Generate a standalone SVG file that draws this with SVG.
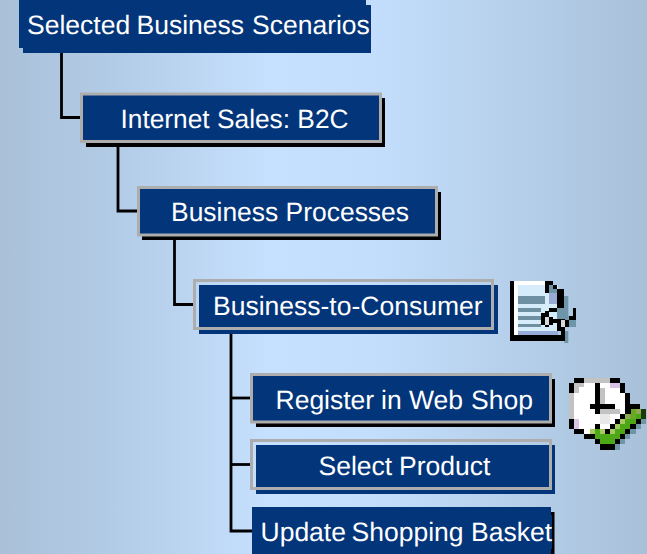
<svg xmlns="http://www.w3.org/2000/svg" width="647" height="554" viewBox="0 0 647 554">
<defs>
<linearGradient id="bg" x1="0" y1="0" x2="1" y2="0">
<stop offset="0" stop-color="#a9c0d8"/>
<stop offset="0.2" stop-color="#b4cde8"/>
<stop offset="0.42" stop-color="#c6e1ff"/>
<stop offset="0.58" stop-color="#c3deFC"/>
<stop offset="0.8" stop-color="#b5cfea"/>
<stop offset="1" stop-color="#a9c0d9"/>
</linearGradient>
</defs>
<style>
.b{fill:#03357b}
.k{fill:#000}
.g{fill:#03357b;stroke:#adadad;stroke-width:3}
.o{fill:none;stroke:#adadad;stroke-width:3}
.t{font-family:"Liberation Sans",Arial,sans-serif;font-size:26.5px;fill:#fff;text-rendering:geometricPrecision}
.c{fill:none;stroke:#000;stroke-width:2.8}
</style>
<rect width="647" height="554" fill="url(#bg)"/>
<g id="connectors">
<path class="c" d="M61.500 48V117.500H80"/>
<path class="c" d="M118 147V211H138"/>
<path class="c" d="M174.500 239V304.500H194"/>
<path class="c" d="M231 330V531H252"/>
<path class="c" d="M231 398H250"/>
<path class="c" d="M231 464.500H250"/>
</g>
<g id="node-scenarios">
<rect class="b" x="19" y="0" width="347" height="48"/>
<rect class="b" x="23" y="5" width="348" height="48"/>
<text class="t" y="34"><tspan x="27">Selected</tspan><tspan x="136.500">Business</tspan><tspan x="252">Scenarios</tspan></text>
</g>
<g id="node-internet-sales">
<rect class="k" x="86" y="98" width="299" height="49"/>
<rect class="g" x="81.500" y="94" width="299" height="47.500"/>
<text class="t" x="120.500" y="128" textLength="228" lengthAdjust="spacingAndGlyphs">Internet Sales: B2C</text>
</g>
<g id="node-business-processes">
<rect class="k" x="142" y="192" width="299" height="48"/>
<rect class="g" x="138.500" y="187.500" width="298" height="47.500"/>
<text class="t" x="171" y="221" textLength="238" lengthAdjust="spacingAndGlyphs">Business Processes</text>
</g>
<g id="node-b2c">
<rect class="b" x="199" y="285" width="299" height="49"/>
<rect class="o" x="194.500" y="280.500" width="298" height="48"/>
<text class="t" x="213" y="315">Business-to-Consumer</text>
</g>
<g id="icon-document" transform="translate(505 275) scale(0.3333)">
<rect fill="#000" x="15" y="18" width="12" height="180"/>
<rect fill="#000" x="15" y="180" width="163" height="18"/>
<rect fill="#fff" x="27" y="18" width="93" height="162"/>
<rect fill="#d6ecfa" x="39" y="30" width="120" height="138"/>
<rect fill="#6f8fa3" x="39" y="63" width="81" height="24"/>
<rect fill="#6f8fa3" x="39" y="99" width="69" height="12"/>
<rect fill="#6f8fa3" x="39" y="123" width="69" height="12"/>
<rect fill="#6f8fa3" x="39" y="147" width="69" height="9"/>
<rect fill="#98abd6" x="39" y="168" width="120" height="12"/>
<rect fill="#6f96a8" x="156" y="63" width="34" height="90"/>
<rect fill="#6f96a8" x="190" y="123" width="23" height="33"/>
<rect fill="#6f96a8" x="178" y="168" width="12" height="36"/>
<rect fill="#98abd6" x="132" y="54" width="24" height="33"/>
<rect fill="#6f96a8" x="132" y="30" width="24" height="24"/>
<rect fill="#000" x="120" y="18" width="12" height="36"/>
<rect fill="#000" x="132" y="18" width="12" height="12"/>
<rect fill="#000" x="144" y="30" width="12" height="12"/>
<rect fill="#000" x="156" y="42" width="21" height="57"/>
<rect fill="#000" x="132" y="99" width="24" height="12"/>
<rect fill="#000" x="108" y="114" width="12" height="36"/>
<rect fill="#000" x="120" y="108" width="12" height="18"/>
<rect fill="#d8d8d8" x="120" y="126" width="12" height="24"/>
<rect fill="#000" x="132" y="126" width="12" height="24"/>
<rect fill="#000" x="120" y="150" width="12" height="6"/>
<rect fill="#000" x="144" y="132" width="36" height="12"/>
<rect fill="#000" x="156" y="144" width="12" height="24"/>
<rect fill="#d8d8d8" x="168" y="135" width="12" height="21"/>
<rect fill="#000" x="180" y="135" width="12" height="21"/>
<rect fill="#000" x="168" y="156" width="12" height="42"/>
<rect fill="#000" x="192" y="123" width="12" height="12"/>
<rect fill="#000" x="204" y="99" width="9" height="36"/>
</g>
<g id="node-register">
<rect class="k" x="256" y="379" width="299" height="48"/>
<rect class="g" x="251.500" y="374.500" width="299" height="47.500"/>
<text class="t" y="409"><tspan x="275.500">Register</tspan><tspan x="381">in</tspan><tspan x="409">Web</tspan><tspan x="471">Shop</tspan></text>
</g>
<g id="icon-clock" transform="translate(565 373) scale(0.3333)">
<rect fill="#fff" x="27" y="30" width="153" height="138"/>
<rect fill="#fff" x="42" y="168" width="48" height="15"/>
<rect fill="#c2c2c2" x="57" y="15" width="78" height="15"/>
<rect fill="#c2c2c2" x="27" y="30" width="30" height="12"/>
<rect fill="#c2c2c2" x="27" y="42" width="15" height="18"/>
<rect fill="#c2c2c2" x="12" y="60" width="15" height="78"/>
<rect fill="#d8c4e4" x="135" y="30" width="30" height="15"/>
<rect fill="#d8c4e4" x="27" y="138" width="15" height="30"/>
<rect fill="#000" x="27" y="15" width="30" height="15"/>
<rect fill="#000" x="135" y="15" width="30" height="15"/>
<rect fill="#000" x="12" y="30" width="15" height="30"/>
<rect fill="#000" x="165" y="30" width="15" height="30"/>
<rect fill="#000" x="180" y="60" width="15" height="48"/>
<rect fill="#000" x="195" y="93" width="30" height="15"/>
<rect fill="#000" x="12" y="138" width="15" height="30"/>
<rect fill="#000" x="27" y="168" width="30" height="15"/>
<rect fill="#000" x="57" y="183" width="33" height="15"/>
<rect fill="#000" x="90" y="198" width="15" height="15"/>
<rect fill="#000" x="105" y="213" width="45" height="18"/>
<rect fill="#c2c2c2" x="105" y="45" width="15" height="48"/>
<rect fill="#c2c2c2" x="105" y="108" width="60" height="15"/>
<rect fill="#000" x="90" y="30" width="15" height="78"/>
<rect fill="#000" x="75" y="93" width="75" height="15"/>
<rect fill="#000" x="90" y="108" width="15" height="15"/>
<rect fill="#e8e8e8" x="105" y="123" width="30" height="30"/>
<rect fill="#4da818" x="90" y="168" width="75" height="30"/>
<rect fill="#4da818" x="105" y="198" width="60" height="15"/>
<rect fill="#4da818" x="150" y="153" width="45" height="30"/>
<rect fill="#4da818" x="180" y="123" width="48" height="30"/>
<rect fill="#a8c860" x="75" y="168" width="15" height="15"/>
<rect fill="#a8c860" x="105" y="168" width="15" height="15"/>
<rect fill="#a8c860" x="135" y="168" width="15" height="15"/>
<rect fill="#a8c860" x="150" y="153" width="15" height="15"/>
<rect fill="#a8c860" x="165" y="138" width="15" height="15"/>
<rect fill="#90a858" x="180" y="123" width="15" height="15"/>
<rect fill="#90a858" x="213" y="108" width="15" height="15"/>
<rect fill="#6aa828" x="198" y="108" width="15" height="15"/>
<rect fill="#6aa828" x="195" y="123" width="18" height="15"/>
<rect fill="#1c3a08" x="228" y="108" width="15" height="30"/>
<rect fill="#000" x="180" y="108" width="18" height="15"/>
<rect fill="#000" x="165" y="123" width="15" height="15"/>
<rect fill="#000" x="150" y="138" width="15" height="15"/>
<rect fill="#000" x="135" y="153" width="15" height="15"/>
<rect fill="#000" x="90" y="153" width="15" height="15"/>
<rect fill="#000" x="120" y="168" width="15" height="15"/>
<rect fill="#000" x="213" y="138" width="15" height="15"/>
<rect fill="#000" x="195" y="153" width="18" height="15"/>
<rect fill="#000" x="180" y="168" width="15" height="15"/>
<rect fill="#000" x="165" y="183" width="15" height="15"/>
<rect fill="#000" x="150" y="198" width="15" height="15"/>
<rect fill="#6f96a8" x="228" y="138" width="15" height="15"/>
<rect fill="#6f96a8" x="213" y="153" width="15" height="15"/>
<rect fill="#6f96a8" x="195" y="168" width="18" height="15"/>
<rect fill="#6f96a8" x="180" y="183" width="15" height="15"/>
<rect fill="#6f96a8" x="165" y="198" width="15" height="15"/>
<rect fill="#6f96a8" x="150" y="213" width="15" height="18"/>
</g>
<g id="node-select">
<rect class="b" x="256" y="445" width="299" height="49"/>
<rect class="o" x="251.500" y="440.500" width="299" height="48"/>
<text class="t" y="475"><tspan x="318.500">Select</tspan><tspan x="399">Product</tspan></text>
</g>
<g id="node-update">
<rect class="k" x="256" y="512" width="298.500" height="42"/>
<rect class="b" x="252" y="507" width="299" height="47"/>
<rect class="b" x="548" y="515" width="4" height="34"/>
<text class="t" y="541"><tspan x="260.500">Update</tspan><tspan x="351.500">Shopping</tspan><tspan x="471">Basket</tspan></text>
</g>
</svg>
